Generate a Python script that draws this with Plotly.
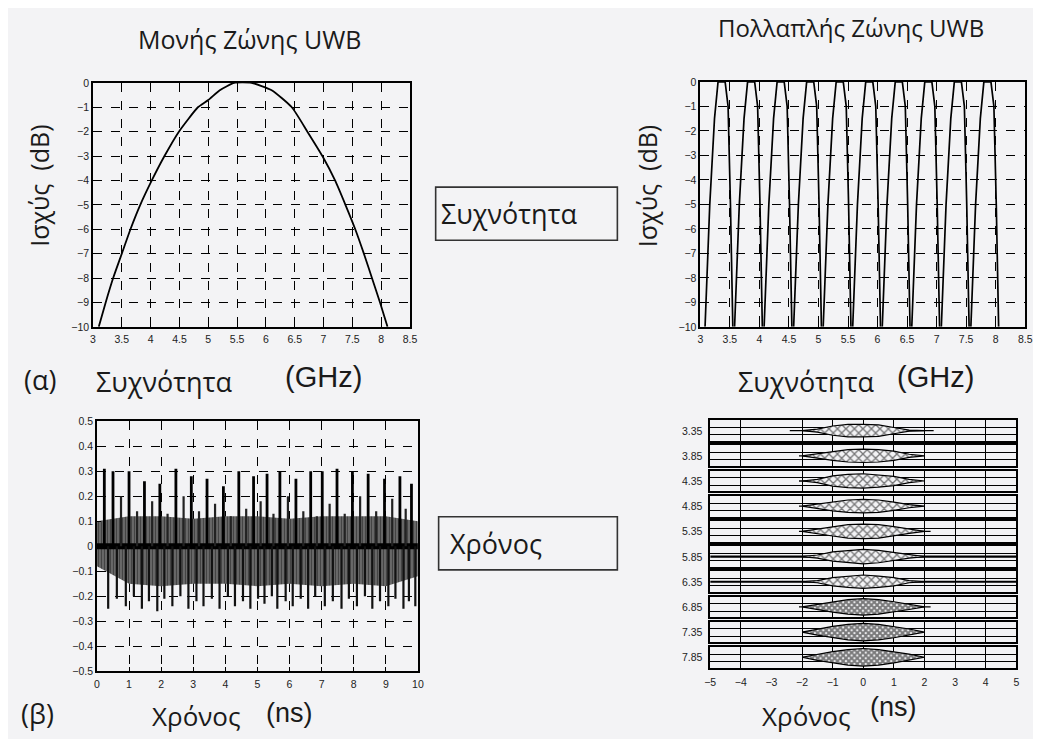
import plotly.graph_objects as go

W, H = 1041, 739
OFF = 8  # the page body adds an 8px margin; layout is given in screen pixels

# ---------------- data ----------------
# (α) left: single-band UWB spectrum
sb_freq = [3.10, 3.22, 3.35, 3.50, 3.65, 3.82, 4.02, 4.24, 4.49, 4.82, 5.00, 5.20, 5.45,
           5.75, 6.10, 6.45, 6.72, 6.98, 7.20, 7.38, 7.55, 7.70, 7.84, 7.98, 8.11]
sb_db = [-10, -9, -8, -7, -6, -5, -4, -3, -2, -1, -0.7, -0.3, 0,
         0, -0.3, -1, -2, -3, -4, -5, -6, -7, -8, -9, -10]

# (α) right: multi-band UWB spectrum (10 sub-bands, same shape each)
mb_center = [3.35, 3.85, 4.35, 4.85, 5.35, 5.85, 6.35, 6.85, 7.35, 7.85]
mb_offset = [-0.27, -0.19, -0.11, -0.05, 0.07, 0.12, 0.16, 0.20]
mb_db = [-10, -5, -1.5, 0, 0, -1, -5, -10]

# (β) left: single-band pulse train
pk_t = [0.23, 0.50, 1.00, 1.48, 1.96, 2.46, 2.94, 3.43, 3.94, 4.42, 4.88,
        5.30, 5.70, 6.20, 6.66, 7.02, 7.48, 7.96, 8.45, 8.96, 9.44, 9.80]
pk_v = [0.31, 0.30, 0.30, 0.26, 0.25, 0.31, 0.28, 0.27, 0.24, 0.30, 0.28,
        0.29, 0.30, 0.27, 0.30, 0.30, 0.31, 0.30, 0.29, 0.27, 0.28, 0.25]
mid_t = [0.75, 1.25, 1.72, 2.20, 2.70, 3.18, 3.68, 4.17, 4.65, 5.10,
         5.50, 5.95, 6.43, 6.85, 7.25, 7.72, 8.20, 8.70, 9.20, 9.62]
mid_v = [0.20, 0.14, 0.18, 0.13, 0.20, 0.14, 0.17, 0.12, 0.15, 0.18,
         0.13, 0.20, 0.14, 0.12, 0.17, 0.13, 0.20, 0.14, 0.19, 0.15]
tr_t = [0.35, 0.62, 0.90, 1.15, 1.40, 1.62, 1.88, 2.10, 2.35, 2.60, 2.85,
        3.10, 3.32, 3.58, 3.82, 4.08, 4.30, 4.55, 4.78, 5.02, 5.22, 5.45,
        5.62, 5.88, 6.10, 6.35, 6.58, 6.80, 7.10, 7.35, 7.62, 7.85, 8.10,
        8.35, 8.58, 8.82, 9.08, 9.30, 9.55, 9.72, 9.92]
tr_v = [-0.25, -0.21, -0.24, -0.20, -0.25, -0.22, -0.26, -0.21, -0.24, -0.20, -0.25,
        -0.22, -0.24, -0.21, -0.25, -0.20, -0.24, -0.22, -0.25, -0.21, -0.23, -0.20,
        -0.25, -0.22, -0.24, -0.21, -0.25, -0.20, -0.24, -0.22, -0.25, -0.21, -0.24,
        -0.20, -0.25, -0.22, -0.24, -0.21, -0.25, -0.22, -0.24]
bg_t = [0, 1, 2, 3, 4, 5, 6, 7, 8, 9, 10]
bg_hi = [0.10, 0.12, 0.12, 0.11, 0.12, 0.12, 0.11, 0.12, 0.12, 0.12, 0.10]
bg_lo = [-0.08, -0.15, -0.16, -0.15, -0.15, -0.16, -0.15, -0.16, -0.15, -0.16, -0.12]

# (β) right: multi-band pulses, one row per centre frequency (GHz)
row_labels = ['3.35', '3.85', '4.35', '4.85', '5.35', '5.85', '6.35', '6.85', '7.35', '7.85']
env_t = [-2.0, -1.5, -1.0, -0.5, 0.0, 0.5, 1.0, 1.5, 2.0]
env_335 = [0, 0.15, 0.45, 0.60, 0.60, 0.55, 0.30, 0.05, 0]
env_385 = [0, 0.20, 0.45, 0.60, 0.65, 0.60, 0.45, 0.15, 0]
env_435 = [0, 0.15, 0.50, 0.65, 0.70, 0.60, 0.45, 0.15, 0]
env_485 = [0, 0.20, 0.45, 0.60, 0.65, 0.60, 0.40, 0.15, 0]
env_535 = [0, 0.20, 0.45, 0.65, 0.70, 0.65, 0.45, 0.20, 0]
env_585 = [0, 0.15, 0.45, 0.60, 0.70, 0.60, 0.40, 0.15, 0]
env_635 = [0, 0.10, 0.40, 0.55, 0.65, 0.55, 0.40, 0.10, 0]
env_685 = [0, 0.25, 0.50, 0.70, 0.80, 0.70, 0.50, 0.25, 0]
env_735 = [0, 0.30, 0.55, 0.75, 0.85, 0.75, 0.55, 0.30, 0]
env_785 = [0, 0.30, 0.55, 0.75, 0.85, 0.75, 0.55, 0.30, 0]
base_from = [-2.4, -2.1, -2.1, -2.1, -2.1, -5.0, -5.0, -2.1, -2.0, -2.0]
base_to = [2.3, 1.9, 1.9, 1.8, 2.2, 5.0, 5.0, 2.2, 1.7, 1.7]
time_ticks = [-5, -4, -3, -2, -1, 0, 1, 2, 3, 4, 5]
row_grid_t = [-4, -2, -1, 0, 1, 2, 3, 4]

# ---------------- figure ----------------
BG = '#f3f3f5'
GREEK = 'Open Sans, Noto Sans, DejaVu Sans'
ARIAL = 'Liberation Sans, Arial'
TICKF = dict(family=ARIAL, size=10.5, color='#222')

fig = go.Figure()

# single band spectrum
fig.add_trace(go.Scatter(x=sb_freq, y=sb_db, mode='lines',
                         line=dict(color='black', width=1.8, shape='spline', smoothing=0.5),
                         xaxis='x', yaxis='y', showlegend=False))

# multi band spectrum
mx, my = [], []
for c in mb_center:
    for o, d in zip(mb_offset, mb_db):
        mx.append(c + o)
        my.append(d)
    mx.append(None)
    my.append(None)
fig.add_trace(go.Scatter(x=mx, y=my, mode='lines', line=dict(color='black', width=1.7),
                         xaxis='x2', yaxis='y2', showlegend=False))

# pulse train: dense background
fig.add_trace(go.Scatter(x=bg_t + bg_t[::-1], y=bg_hi + bg_lo[::-1], fill='toself', mode='lines',
                         line=dict(width=0), fillcolor='#5a5a5a',
                         fillpattern=dict(shape='|', size=3, solidity=0.55, fgcolor='#0a0a0a', bgcolor='#7a7a7a'),
                         xaxis='x3', yaxis='y3', showlegend=False))
fig.add_trace(go.Scatter(x=[bg_t[0], bg_t[-1]], y=[0, 0], mode='lines', line=dict(color='black', width=6),
                         xaxis='x3', yaxis='y3', showlegend=False))


def segs(ts, vs):
    xs, ys = [], []
    for t, v in zip(ts, vs):
        xs += [t, t, None]
        ys += [0, v, None]
    return xs, ys


for ts, vs, w, col in [(tr_t, tr_v, 2.2, '#111'), (mid_t, mid_v, 2.2, '#222'), (pk_t, pk_v, 2.8, 'black')]:
    sx, sy = segs(ts, vs)
    fig.add_trace(go.Scatter(x=sx, y=sy, mode='lines', line=dict(color=col, width=w),
                             xaxis='x3', yaxis='y3', showlegend=False))

# multi band pulses
envs = [env_335, env_385, env_435, env_485, env_535, env_585, env_635, env_685, env_735, env_785]
for i, env in enumerate(envs):
    n = i + 4
    dense = i >= 7
    fig.add_trace(go.Scatter(x=[base_from[i], base_to[i]], y=[0, 0], mode='lines',
                             line=dict(color='black', width=2.2 if i in (5, 6) else 1.3),
                             xaxis=f'x{n}', yaxis=f'y{n}', showlegend=False))
    fig.add_trace(go.Scatter(x=env_t + env_t[::-1], y=env + [-v for v in env[::-1]],
                             fill='toself', mode='lines', line=dict(width=1.2, color='#000'),
                             fillcolor='#222',
                             fillpattern=dict(shape='x', size=4 if dense else 6,
                                              solidity=0.75 if dense else 0.4,
                                              fgcolor='#000', bgcolor=BG),
                             xaxis=f'x{n}', yaxis=f'y{n}', showlegend=False))
fig.add_trace(go.Scatter(x=[], y=[], xaxis='x14', yaxis='y13', showlegend=False))

axis_common = dict(showline=True, linecolor='black', linewidth=1.6, mirror=True,
                   ticks='inside', ticklen=4, tickcolor='black',
                   showgrid=True, gridcolor='black', griddash='dash', gridwidth=1.3,
                   zeroline=False, tickfont=TICKF, ticklabeloverflow='allow')


def dx(a, b):
    return [(a - OFF) / W, (b - OFF) / W]


def dy(top, bottom):
    return [1 - (bottom - OFF) / H, 1 - (top - OFF) / H]


lay = dict(
    width=W, height=H, margin=dict(l=0, r=0, t=0, b=0),
    paper_bgcolor=BG, plot_bgcolor=BG, showlegend=False,
)
lay['xaxis'] = dict(axis_common, domain=dx(88, 409), anchor='y', range=[3, 8.5], dtick=0.5, tick0=3, ticklabelstandoff=2)
lay['yaxis'] = dict(axis_common, domain=dy(78, 326), anchor='x', range=[-10, 0], dtick=1)
lay['xaxis2'] = dict(axis_common, domain=dx(703, 1032), anchor='y2', range=[3, 8.5], dtick=0.5, tick0=3, ticklabelstandoff=2)
lay['yaxis2'] = dict(axis_common, domain=dy(77, 326), anchor='x2', range=[-10, 0], dtick=1)
lay['xaxis3'] = dict(axis_common, domain=dx(92, 417), anchor='y3', range=[0, 10], dtick=1, ticklabelstandoff=2)
lay['yaxis3'] = dict(axis_common, domain=dy(422, 676), anchor='x3', range=[-0.5, 0.5], dtick=0.1)

row_common = dict(showline=True, linecolor='black', linewidth=1.6, mirror=True, ticks='',
                  showgrid=True, gridcolor='black', gridwidth=1.1, zeroline=False,
                  showticklabels=False)
annotations = []


def txt(s, x, y, size, anchor='center', angle=0, family=GREEK, color='#1a1a1a'):
    annotations.append(dict(text=s, xref='paper', yref='paper', x=(x - OFF) / W, y=1 - (y - OFF) / H,
                            xanchor=anchor, yanchor='middle', showarrow=False, textangle=angle,
                            font=dict(family=family, size=size, color=color)))


for i in range(10):
    n = i + 4
    top = 421 + i * 25.6
    bot = top + 21
    lay[f'xaxis{n}'] = dict(row_common, domain=dx(713, 1023), anchor=f'y{n}', range=[-5, 5],
                            tickvals=row_grid_t)
    lay[f'yaxis{n}'] = dict(row_common, domain=dy(top, bot), anchor=f'x{n}', range=[-1, 1],
                            tickvals=[0.3, -0.4])
    annotations.append(dict(text=row_labels[i], xref='paper', yref=f'y{n}', x=(708 - OFF) / W, y=0,
                            xanchor='right', yanchor='middle', showarrow=False,
                            font=dict(family=ARIAL, size=10.5, color='#222')))
lay['xaxis14'] = dict(overlaying='x13', anchor='y13', range=[-5, 5], tickvals=time_ticks,
                      showgrid=False, showline=False, zeroline=False, ticks='', tickfont=TICKF,
                      ticklabelstandoff=7, side='bottom', ticklabeloverflow='allow')

txt('Μονής Ζώνης UWB', 246, 33, 25)
txt('Πολλαπλής Ζώνης UWB', 856, 22, 24)
txt('Ισχύς  (dB)', 33, 183, 25, angle=-90)
txt('Ισχύς  (dB)', 649, 183, 25, angle=-90)
txt('(α)', 34, 380, 27)
txt('Συχνότητα', 160, 382, 27)
txt('(GHz)', 321, 377, 29, family=ARIAL)
txt('Συχνότητα', 810, 382, 27)
txt('(GHz)', 941, 377, 29, family=ARIAL)
txt('(β)', 32, 719, 27)
txt('Χρόνος', 193, 722, 26)
txt('(ns)', 287, 719, 27, family=ARIAL)
txt('Χρόνος', 811, 722, 26)
txt('(ns)', 899, 712, 27, family=ARIAL)
txt('Συχνότητα', 438, 211, 27, anchor='left')
txt('Χρόνος', 447, 546, 27, anchor='left')

lay['annotations'] = annotations
lay['shapes'] = [
    dict(type='rect', xref='paper', yref='paper', x0=(435 - OFF) / W, x1=(619 - OFF) / W,
         y0=1 - (238 - OFF) / H, y1=1 - (184 - OFF) / H, line=dict(color='#333', width=1.6)),
    dict(type='rect', xref='paper', yref='paper', x0=(438 - OFF) / W, x1=(619 - OFF) / W,
         y0=1 - (573 - OFF) / H, y1=1 - (519 - OFF) / H, line=dict(color='#333', width=1.6)),
]
fig.update_layout(**lay)
fig.write_html('out.html')
